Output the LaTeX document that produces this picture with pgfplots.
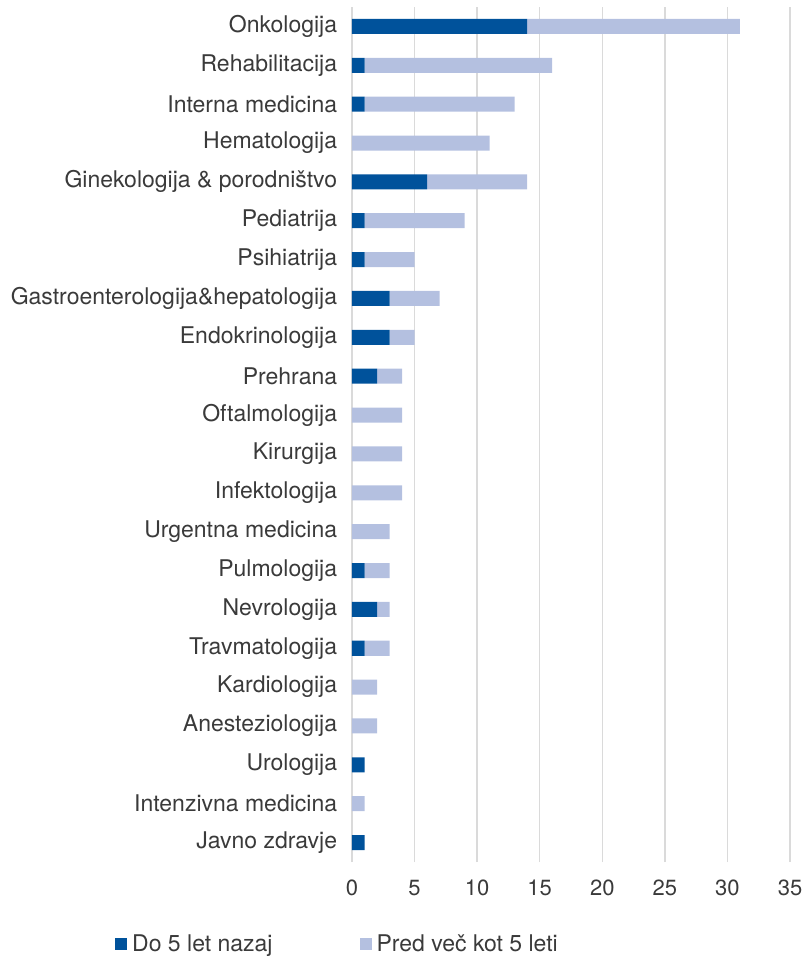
\documentclass[border=0pt]{standalone}
\usepackage{pgfplots}
\pgfplotsset{compat=1.18}
\usepackage{pgfplotstable}
\usepackage{fontspec}
\setmainfont{TeX Gyre Heros}
\definecolor{darkb}{HTML}{00529B}
\definecolor{lightb}{HTML}{B4C0E0}
\definecolor{txt}{HTML}{3A3A3A}
\definecolor{gridc}{HTML}{DADADA}

% y: 0 = bottom (Javno zdravje), 21 = top (Onkologija)
\pgfplotstableread{
y  recent  older
21 14 17
20 1  15
19 1  12
18 0  11
17 6  8
16 1  8
15 1  4
14 3  4
13 3  2
12 2  2
11 0  4
10 0  4
9  0  4
8  0  3
7  1  2
6  2  1
5  1  2
4  0  2
3  0  2
2  1  0
1  0  1
0  1  0
}\datatable

\begin{document}
\fontsize{23bp}{27bp}\selectfont
\begin{tikzpicture}
\begin{axis}[
  name=ax,
  scale only axis,
  width=438bp, height=855bp,
  xbar stacked,
  bar width=15bp,
  xmin=0, xmax=35,
  ymin=-0.5, ymax=21.5,
  xtick={0,5,...,35},
  ytick={0,...,21},
  yticklabels={Javno zdravje,Intenzivna medicina,Urologija,Anesteziologija,Kardiologija,Travmatologija,Nevrologija,Pulmologija,Urgentna medicina,Infektologija,Kirurgija,Oftalmologija,Prehrana,Endokrinologija,Gastroenterologija\&hepatologija,Psihiatrija,Pediatrija,Ginekologija \& porodništvo,Hematologija,Interna medicina,Rehabilitacija,Onkologija},
  xmajorgrids,
  grid style={gridc, line width=1.5bp},
  axis line style={draw=none},
  major tick length=0pt,
  yticklabel style={font=\fontsize{23bp}{27bp}\selectfont, text=txt, xshift=-7bp},
  xticklabel style={font=\fontsize{22bp}{26bp}\selectfont, text=txt, yshift=-10bp},
  /pgf/number format/assume math mode=true,
  legend style={draw=none, fill=none, inner sep=0pt,
    at={(axis description cs:-0.541,-0.097)}, anchor=west,
    font=\fontsize{23bp}{27bp}\selectfont, text=txt,
    legend columns=2,
    /tikz/every odd column/.append style={column sep=3bp},
    /tikz/every even column/.append style={column sep=85bp}},
  legend cell align=left,
  legend image code/.code={\fill[#1, draw=none] (0bp,-5bp) rectangle (12bp,7bp);},
]
\addplot[fill=darkb, draw=none] table[x=recent, y=y] {\datatable};
\addplot[fill=lightb, draw=none] table[x=older, y=y] {\datatable};
\legend{Do 5 let nazaj, Pred več kot 5 leti}
\end{axis}
\path (ax.south west) ++(-352bp,-99bp) rectangle ++(804bp,961bp);
\end{tikzpicture}
\end{document}
